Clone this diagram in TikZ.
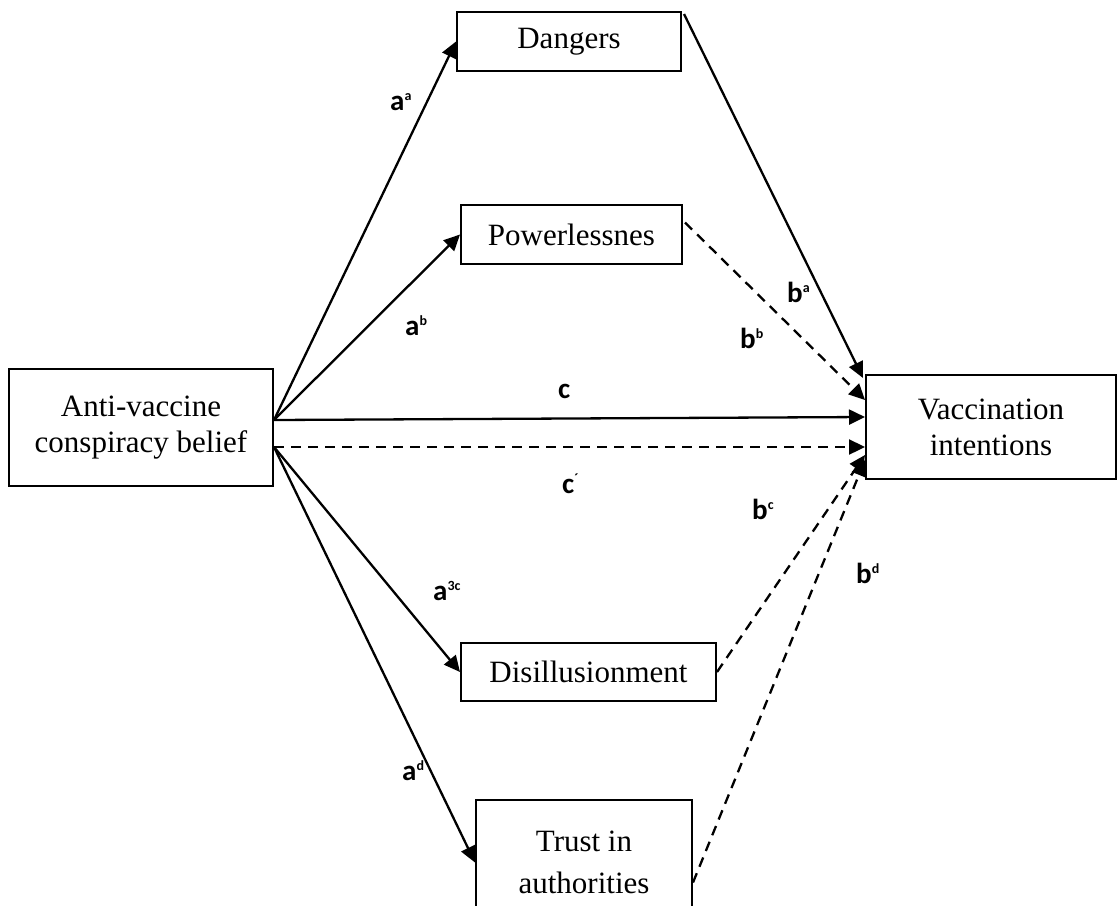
\documentclass[tikz,border=0pt]{standalone}
\usepackage{fontspec}
\setmainfont{Liberation Serif}
\newfontfamily\labfont{Carlito}
\usetikzlibrary{arrows.meta}
\newcommand\sps[1]{\raisebox{10pt}{\fontsize{14}{15}\selectfont #1}}
\tikzset{
  box/.style={draw, line width=2pt, align=center, inner sep=0pt,
    font=\fontsize{31}{36}\selectfont},
  lab/.style={font=\labfont\bfseries\fontsize{29}{32}\selectfont, inner sep=0pt, anchor=base west},
  arr/.style={line width=2.3pt, -{Triangle[length=16pt,width=15pt]}},
  dsh/.style={arr, dash pattern=on 10pt off 7pt},
}
\begin{document}
\begin{tikzpicture}[x=1pt,y=-1pt]
\clip (0,0) rectangle (1118,905);
\fill[white] (0,0) rectangle (1118,905);
% boxes
\node[box, minimum width=264pt, minimum height=117pt] (anti) at (141,427.5) {Anti-vaccine\\conspiracy belief};
\node[box, minimum width=250pt, minimum height=104pt] (vacc) at (991,427) {Vaccination\\intentions};
\node[box, minimum width=224pt, minimum height=59pt] (dang) at (569,41.5) {Dangers};
\node[box, minimum width=221pt, minimum height=59pt] (pow) at (571.5,234.5) {Powerlessnes};
\node[box, minimum width=255pt, minimum height=58pt] (dis) at (588.5,672) {Disillusionment};
\node[box, minimum width=216pt, minimum height=125pt] (trust) at (584,862.5) {Trust in\\[6pt]authorities};
% a paths
\draw[arr] ([yshift=7.5pt]anti.east) -- (dang.west);
\draw[arr] ([yshift=7.5pt]anti.east) -- (pow.west);
\draw[arr] ([yshift=7.5pt]anti.east) -- ([yshift=10pt]vacc.west);
\draw[dsh] ([yshift=-19.5pt]anti.east) -- ([yshift=-20pt]vacc.west);
\draw[arr] ([yshift=-19.5pt]anti.east) -- (dis.west);
\draw[arr] ([yshift=-19.5pt]anti.east) -- (trust.west);
% b paths
\draw[arr] ([xshift=2pt,yshift=-3pt]dang.north east) -- ([xshift=-2pt,yshift=-4pt]vacc.north west);
\draw[dsh] ([xshift=2pt,yshift=12pt]pow.east) -- ([yshift=27pt]vacc.west);
\draw[dsh] (dis.east) -- ([yshift=-28pt]vacc.west);
\draw[dsh] ([yshift=-20pt]trust.east) -- ([yshift=-33pt]vacc.west);
% labels
\node[lab] (la) at (390,110) {a\sps{a}};
\node[lab] (lb) at (405,335) {a\sps{b}};
\node[lab] (lc) at (558,398) {c};
\node[lab] (lcp) at (562,493) {c\sps{´}};
\node[lab] (l3c) at (433,600) {a\sps{3c}};
\node[lab] (ld) at (402,780) {a\sps{d}};
\node[lab] (lba) at (787,302) {b\sps{a}};
\node[lab] (lbb) at (740,348) {b\sps{b}};
\node[lab] (lbc) at (752,519) {b\sps{c}};
\node[lab] (lbd) at (856,583) {b\sps{d}};
\end{tikzpicture}
\end{document}
